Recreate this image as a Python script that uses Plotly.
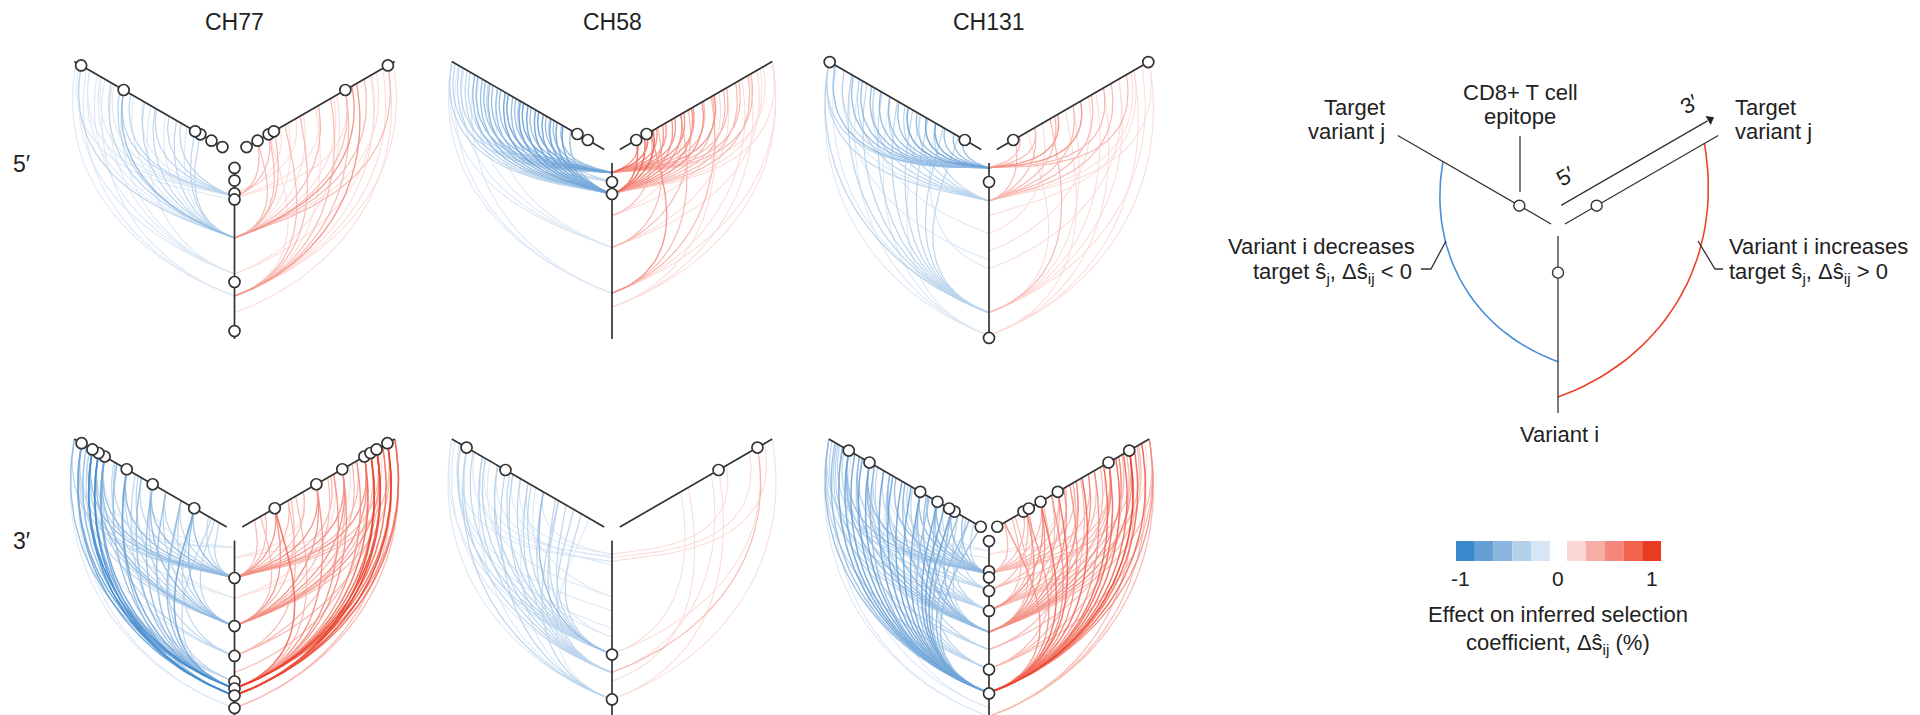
import math
import plotly.graph_objects as go

# ---------------- data ----------------
ROW_LABELS = ["5′", "3′"]
PATIENTS = ["CH77", "CH58", "CH131"]

# epitope positions along each axis (0 = hub end, 100 = outer end)
CH77_5_EPI = [2.8, 10, 17.3, 20.7, 67.6, 95.5]
CH58_5_EPI = [10.8, 17.6]
CH131_5_EPI = [10.8, 99.4]
CH77_3_EPI = [21.3, 48.6, 65.6, 80.1, 84.1, 88.1, 95.2]
CH58_3_EPI = [64.8, 90.3]
CH131_3_EPI = [0.3, 17.5, 21, 28.7, 40, 73.3, 86.9]

# links: (position of variant i on vertical axis, position of target j, effect %)
CH77_5_NEG = [
    (42.6, 17.5, -0.25), (42.6, 21, -0.3), (42.6, 26, -0.2), (42.6, 33, -0.35), (42.6, 40, -0.2),
    (42.6, 47, -0.3), (42.6, 54, -0.25), (42.6, 61, -0.2), (42.6, 67.6, -0.6), (42.6, 70, -0.35),
    (42.6, 76, -0.25), (42.6, 83, -0.2), (42.6, 90, -0.15), (42.6, 95.5, -0.3),
    (19, 30, -0.3), (19, 38, -0.25), (19, 46, -0.35), (19, 55, -0.2), (19, 63, -0.3), (19, 67.6, -0.4),
    (19, 74, -0.2), (19, 82, -0.15), (19, 90, -0.2), (21, 97, -0.12),
    (63, 67.6, -0.2), (63, 75, -0.15), (63, 85, -0.12), (63, 95.5, -0.1), (63, 50, -0.15),
    (75.6, 92, -0.08), (75.6, 99, -0.06), (75.6, 80, -0.08),
]
CH77_5_POS = [
    (42.6, 10, 0.3), (42.6, 17.5, 0.35), (42.6, 21, 0.25), (42.6, 30, 0.2), (42.6, 40, 0.15),
    (42.6, 50, 0.25), (42.6, 60, 0.2), (42.6, 67.6, 0.35), (42.6, 72, 0.6), (42.6, 80, 0.3),
    (42.6, 88, 0.2), (42.6, 95.5, 0.25),
    (19, 10, 0.4), (19, 17.5, 0.3), (19, 25, 0.2), (17, 35, 0.15), (20, 50, 0.1), (20, 67.6, 0.15),
    (75.6, 17.5, 0.2), (75.6, 28, 0.25), (75.6, 38, 0.35), (75.6, 48, 0.2), (75.6, 58, 0.3),
    (75.6, 67.6, 0.25), (75.6, 75, 0.45), (75.6, 84, 0.2), (75.6, 92, 0.15), (75.6, 99, 0.1),
    (63, 62, 0.12), (63, 85, 0.1), (85, 95.5, 0.06),
]
CH58_5_NEG = [
    (5.5, 28, -0.5), (5.5, 33, -0.6), (5.5, 38, -0.55), (5.5, 43, -0.7), (5.5, 48, -0.5),
    (5.5, 53, -0.65), (5.5, 58, -0.6), (5.5, 63, -0.7), (5.5, 68, -0.55), (5.5, 73, -0.6),
    (5.5, 78, -0.5), (5.5, 83, -0.45), (5.5, 88, -0.4), (5.5, 93, -0.35), (5.5, 98, -0.3),
    (17.6, 22, -0.6), (17.6, 27, -0.7), (17.6, 31, -0.75), (17.6, 35, -0.8), (17.6, 40, -0.7),
    (17.6, 45, -0.75), (17.6, 50, -0.65), (17.6, 55, -0.7), (17.6, 60, -0.6), (17.6, 65, -0.65),
    (17.6, 70, -0.55), (17.6, 75, -0.6), (17.6, 80, -0.5), (17.6, 85, -0.45), (17.6, 90, -0.4),
    (17.6, 95, -0.3), (17.6, 100, -0.25),
    (10.8, 36, -0.4), (10.8, 56, -0.35), (10.8, 76, -0.3),
    (48, 70, -0.15), (48, 82, -0.12), (48, 92, -0.1), (48, 100, -0.08),
    (74, 85, -0.1), (74, 96, -0.12), (74, 100, -0.08),
]
CH58_5_POS = [
    (5.5, 12, 0.6), (5.5, 18, 0.7), (5.5, 24, 0.55), (5.5, 30, 0.5), (5.5, 36, 0.6), (5.5, 42, 0.45),
    (5.5, 48, 0.5), (5.5, 55, 0.4), (5.5, 62, 0.45), (5.5, 70, 0.35), (5.5, 78, 0.3), (5.5, 86, 0.25),
    (5.5, 94, 0.2),
    (17.6, 10.8, 0.8), (17.6, 16, 0.7), (17.6, 22, 0.65), (17.6, 28, 0.6), (17.6, 34, 0.55),
    (17.6, 40, 0.5), (17.6, 47, 0.45), (17.6, 54, 0.5), (17.6, 61, 0.4), (17.6, 68, 0.35),
    (17.6, 76, 0.3), (17.6, 84, 0.25), (17.6, 92, 0.2), (17.6, 100, 0.15),
    (30, 20, 0.3), (30, 40, 0.2), (30, 65, 0.15),
    (48, 25, 0.4), (48, 45, 0.3), (48, 70, 0.2), (48, 90, 0.15),
    (74, 20, 0.45), (74, 40, 0.35), (74, 60, 0.25), (74, 80, 0.2), (74, 100, 0.12),
    (82, 60, 0.1), (82, 85, 0.1), (82, 100, 0.08),
]
CH131_5_NEG = [
    (2.8, 12, -0.5), (2.8, 18, -0.55), (2.8, 24, -0.6), (2.8, 30, -0.65), (2.8, 36, -0.7),
    (2.8, 42, -0.6), (2.8, 48, -0.65), (2.8, 54, -0.55), (2.8, 60, -0.6), (2.8, 66, -0.5),
    (2.8, 72, -0.55), (2.8, 78, -0.45), (2.8, 84, -0.5), (2.8, 90, -0.4), (2.8, 96, -0.45),
    (2.8, 100, -0.4),
    (21.6, 30, -0.35), (21.6, 40, -0.3), (21.6, 50, -0.35), (21.6, 60, -0.3), (21.6, 70, -0.25),
    (21.6, 80, -0.3), (21.6, 90, -0.2), (21.6, 100, -0.25),
    (85, 15, -0.3), (85, 25, -0.35), (85, 35, -0.4), (85, 45, -0.3), (85, 55, -0.35), (85, 65, -0.3),
    (85, 75, -0.25), (85, 85, -0.3), (85, 95, -0.2), (85, 100, -0.25),
    (98, 40, -0.15), (98, 60, -0.12), (98, 80, -0.15), (98, 100, -0.1),
    (40, 70, -0.1), (55, 85, -0.1), (60, 30, -0.12),
]
CH131_5_POS = [
    (2.8, 40, 0.55), (2.8, 55, 0.5), (2.8, 70, 0.35), (2.8, 85, 0.3), (2.8, 25, 0.3), (2.8, 15, 0.25),
    (21.6, 12, 0.3), (21.6, 25, 0.35), (21.6, 38, 0.3), (21.6, 50, 0.4), (21.6, 62, 0.3),
    (21.6, 75, 0.25), (21.6, 88, 0.2), (21.6, 100, 0.15),
    (85, 20, 0.2), (85, 35, 0.25), (85, 50, 0.2), (85, 65, 0.2), (85, 80, 0.15), (85, 95, 0.15),
    (98, 45, 0.1), (98, 70, 0.12), (98, 90, 0.1), (98, 100, 0.08),
    (40, 30, 0.1), (50, 60, 0.12), (30, 90, 0.1), (60, 80, 0.1),
]
CH77_3_NEG = [
    (21.3, 5, -0.3), (21.3, 12, -0.35), (21.3, 21.3, -0.5), (21.3, 30, -0.4), (21.3, 40, -0.35),
    (21.3, 48.6, -0.55), (21.3, 56, -0.3), (21.3, 65.6, -0.45), (21.3, 73, -0.35), (21.3, 80.1, -0.5),
    (21.3, 84.1, -0.4), (21.3, 88.1, -0.45), (21.3, 95.2, -0.3), (21.3, 100, -0.25),
    (48.6, 8, -0.3), (48.6, 21.3, -0.55), (48.6, 30, -0.35), (48.6, 40, -0.3), (48.6, 48.6, -0.5),
    (48.6, 58, -0.3), (48.6, 65.6, -0.4), (48.6, 74, -0.3), (48.6, 80.1, -0.45), (48.6, 84.1, -0.5),
    (48.6, 88.1, -0.4), (48.6, 95.2, -0.35),
    (65.6, 21.3, -0.3), (65.6, 48.6, -0.25), (65.6, 80.1, -0.3), (65.6, 95.2, -0.2),
    (84.1, 10, -0.4), (84.1, 21.3, -0.7), (84.1, 30, -0.5), (84.1, 40, -0.55), (84.1, 48.6, -0.6),
    (84.1, 56, -0.5), (84.1, 65.6, -0.65), (84.1, 72, -0.5), (84.1, 80.1, -0.75), (84.1, 84.1, -0.8),
    (84.1, 88.1, -0.85), (84.1, 92, -0.6), (84.1, 95.2, -0.7), (84.1, 100, -0.5),
    (88.1, 80.1, -0.8), (88.1, 84.1, -0.85), (88.1, 88.1, -0.9), (88.1, 95.2, -0.8), (88.1, 65.6, -0.5),
    (80.1, 30, -0.3), (80.1, 60, -0.3), (80.1, 90, -0.4),
    (4, 50, -0.15), (4, 80, -0.2), (4, 95, -0.15),
    (33, 65, -0.2), (33, 90, -0.2), (95.2, 95.2, -0.2), (95.2, 100, -0.15),
]
CH77_3_POS = [
    (21.3, 8, 0.3), (21.3, 15, 0.35), (21.3, 21.3, 0.6), (21.3, 30, 0.4), (21.3, 40, 0.35),
    (21.3, 48.6, 0.5), (21.3, 58, 0.35), (21.3, 65.6, 0.45), (21.3, 75, 0.35), (21.3, 80.1, 0.5),
    (21.3, 88.1, 0.4), (21.3, 95.2, 0.35),
    (48.6, 12, 0.3), (48.6, 21.3, 0.45), (48.6, 32, 0.35), (48.6, 48.6, 0.5), (48.6, 56, 0.3),
    (48.6, 65.6, 0.45), (48.6, 72, 0.35), (48.6, 80.1, 0.5), (48.6, 84.1, 0.4), (48.6, 88.1, 0.45),
    (48.6, 95.2, 0.3),
    (65.6, 30, 0.25), (65.6, 65.6, 0.3), (65.6, 88.1, 0.25),
    (84.1, 21.3, 0.75), (84.1, 35, 0.4), (84.1, 48.6, 0.55), (84.1, 60, 0.5), (84.1, 65.6, 0.6),
    (84.1, 75, 0.55), (84.1, 80.1, 0.7), (84.1, 84.1, 0.8), (84.1, 88.1, 0.85), (84.1, 92, 0.7),
    (84.1, 95.2, 0.8), (84.1, 100, 0.6),
    (88.1, 84.1, 0.85), (88.1, 88.1, 0.9), (88.1, 95.2, 0.9), (88.1, 100, 0.8),
    (95.2, 95.2, 0.3), (95.2, 100, 0.25),
    (10, 40, 0.2), (10, 70, 0.15), (33, 60, 0.2), (33, 90, 0.2), (75, 80, 0.3),
]
CH58_3_NEG = [
    (8, 40, -0.2), (8, 55, -0.15), (10, 70, -0.2), (12, 85, -0.15), (12, 95, -0.12), (14, 60, -0.15),
    (9, 78, -0.1),
    (32, 50, -0.12), (32, 80, -0.1), (40, 95, -0.1),
    (64.6, 15, -0.3), (64.6, 25, -0.4), (64.6, 32, -0.35), (64.6, 40, -0.45), (64.6, 48, -0.4),
    (64.6, 55, -0.35), (64.6, 62, -0.4), (64.6, 70, -0.3), (64.6, 78, -0.35), (64.6, 86, -0.3),
    (64.6, 94, -0.25), (64.6, 100, -0.2),
    (75, 20, -0.35), (75, 30, -0.4), (75, 40, -0.35), (75, 50, -0.3), (75, 60, -0.35), (75, 70, -0.3),
    (75, 80, -0.3), (75, 90, -0.25), (75, 98, -0.2),
    (90.3, 10, -0.2), (90.3, 30, -0.25), (90.3, 50, -0.2), (90.3, 64.8, -0.25), (90.3, 80, -0.2),
    (90.3, 90.3, -0.3), (90.3, 100, -0.15),
    (55, 45, -0.15), (55, 75, -0.12), (50, 95, -0.1),
]
CH58_3_POS = [
    (8, 70, 0.15), (10, 85, 0.12), (12, 95, 0.1),
    (64.6, 40, 0.12), (64.6, 90.3, 0.1),
    (75, 90.3, 0.4), (75, 60, 0.15),
    (90.3, 64.8, 0.12), (90.3, 100, 0.1), (80, 45, 0.1),
]
CH131_3_NEG = [
    (19, 5, -0.4), (19, 12, -0.45), (19, 19.3, -0.6), (19, 25, -0.4), (19, 28.7, -0.5), (19, 35, -0.45),
    (19, 40, -0.55), (19, 48, -0.4), (19, 56, -0.45), (19, 64, -0.35), (19, 73.3, -0.5), (19, 80, -0.4),
    (19, 86.9, -0.45), (19, 93, -0.35), (19, 100, -0.3),
    (28.3, 10, -0.3), (28.3, 30, -0.35), (28.3, 50, -0.3), (28.3, 70, -0.3), (28.3, 90, -0.25),
    (39.7, 15, -0.35), (39.7, 28.7, -0.4), (39.7, 45, -0.35), (39.7, 60, -0.4), (39.7, 73.3, -0.35),
    (39.7, 86.9, -0.3), (39.7, 98, -0.3),
    (52, 8, -0.4), (52, 19.3, -0.5), (52, 28.7, -0.55), (52, 36, -0.45), (52, 40, -0.5), (52, 50, -0.45),
    (52, 60, -0.5), (52, 68, -0.4), (52, 73.3, -0.5), (52, 80, -0.45), (52, 86.9, -0.5), (52, 94, -0.4),
    (52, 100, -0.35),
    (73, 20, -0.3), (73, 40, -0.35), (73, 60, -0.3), (73, 80, -0.35), (73, 100, -0.3),
    (86.6, 0.3, -0.5), (86.6, 8, -0.55), (86.6, 15, -0.6), (86.6, 19.3, -0.7), (86.6, 24, -0.65),
    (86.6, 28.7, -0.7), (86.6, 34, -0.6), (86.6, 40, -0.75), (86.6, 46, -0.65), (86.6, 52, -0.7),
    (86.6, 58, -0.65), (86.6, 64, -0.7), (86.6, 70, -0.6), (86.6, 73.3, -0.75), (86.6, 78, -0.65),
    (86.6, 83, -0.7), (86.6, 86.9, -0.8), (86.6, 91, -0.65), (86.6, 96, -0.6), (86.6, 100, -0.5),
    (95, 60, -0.2), (95, 85, -0.2), (100, 100, -0.1), (100, 95, -0.1),
    (6, 30, -0.2), (6, 60, -0.15), (10, 80, -0.15),
    (62, 40, -0.3), (62, 70, -0.25), (62, 95, -0.25),
]
CH131_3_POS = [
    (19, 5, 0.3), (19, 17.5, 0.35), (19, 28.7, 0.4), (19, 40, 0.35), (19, 50, 0.3), (19, 60, 0.35),
    (19, 73.3, 0.3), (19, 86.9, 0.25), (19, 97, 0.2),
    (28.3, 19.3, 0.3), (28.3, 45, 0.3), (28.3, 73.3, 0.25),
    (39.7, 10, 0.35), (39.7, 21, 0.4), (39.7, 28.7, 0.45), (39.7, 40, 0.4), (39.7, 52, 0.35),
    (39.7, 64, 0.4), (39.7, 73.3, 0.35), (39.7, 82, 0.3), (39.7, 92, 0.3),
    (52, 12, 0.35), (52, 19.3, 0.45), (52, 28.7, 0.5), (52, 36, 0.4), (52, 44, 0.45), (52, 52, 0.5),
    (52, 60, 0.45), (52, 68, 0.4), (52, 73.3, 0.5), (52, 80, 0.45), (52, 86.9, 0.5), (52, 93, 0.4),
    (52, 100, 0.35),
    (73, 30, 0.3), (73, 55, 0.35), (73, 80, 0.35), (73, 100, 0.3),
    (86.6, 5, 0.5), (86.6, 19.3, 0.6), (86.6, 28.7, 0.65), (86.6, 36, 0.55), (86.6, 40, 0.7),
    (86.6, 48, 0.6), (86.6, 56, 0.65), (86.6, 64, 0.6), (86.6, 70, 0.65), (86.6, 73.3, 0.7),
    (86.6, 78, 0.65), (86.6, 83, 0.75), (86.6, 86.9, 0.85), (86.6, 90, 0.7), (86.6, 95, 0.65),
    (86.6, 100, 0.55),
    (100, 95, 0.4), (100, 100, 0.35), (100, 86.9, 0.3),
    (8, 40, 0.2), (8, 70, 0.2), (62, 50, 0.3), (62, 85, 0.25),
]

# schematic legend
LEGEND_EPI = [20.7]
LEGEND_LINKS = [(71, 70.5, -1.0), (91, 91, 1.0)]

# colour scale (5 bins each side)
NEG_COLORS = ["#d7e5f4", "#b2cfeb", "#8ab6e0", "#669fd6", "#3a87cc"]   # |effect| small -> large
POS_COLORS = ["#fbd7d3", "#f7aea6", "#f4877b", "#f1624f", "#e83b22"]
CBAR_TICKS = ["-1", "0", "1"]

# ---------------- layout geometry ----------------
FONT = "Liberation Sans, Arial, Helvetica, sans-serif"
TXT = "#222222"
AX = "#333333"
R0, R1 = 9, 185
COL_X = [226.5, 604, 981]
ROW_Y = [146, 523.5]
LEG_C = (1550, 220)
TEXT_DY = -5

PANELS = [
    (0, 0, CH77_5_EPI, CH77_5_NEG, CH77_5_POS),
    (1, 0, CH58_5_EPI, CH58_5_NEG, CH58_5_POS),
    (2, 0, CH131_5_EPI, CH131_5_NEG, CH131_5_POS),
    (0, 1, CH77_3_EPI, CH77_3_NEG, CH77_3_POS),
    (1, 1, CH58_3_EPI, CH58_3_NEG, CH58_3_POS),
    (2, 1, CH131_3_EPI, CH131_3_NEG, CH131_3_POS),
]


def rad(p, r0=R0, r1=R1):
    return r0 + (r1 - r0) * p / 100.0


def polar(cx, cy, ang, r):
    a = math.radians(ang)
    return cx + r * math.cos(a), cy - r * math.sin(a)


def link_xy(cx, cy, pi, pj, eff, r0=R0, r1=R1, n=36):
    ri, rj = rad(pi, r0, r1), rad(pj, r0, r1)
    if eff < 0:
        sa, sr, ta, tr = 150, rj, 270, ri
    else:
        sa, sr, ta, tr = 270, ri, 390, rj
    a1 = sa + (ta - sa) / 3.0
    a2 = ta - (ta - sa) / 3.0
    P = [polar(cx, cy, sa, sr), polar(cx, cy, a1, sr), polar(cx, cy, a2, tr), polar(cx, cy, ta, tr)]
    xs, ys = [], []
    for k in range(n + 1):
        t = k / n
        b = [(1 - t) ** 3, 3 * (1 - t) ** 2 * t, 3 * (1 - t) * t ** 2, t ** 3]
        xs.append(sum(b[m] * P[m][0] for m in range(4)))
        ys.append(sum(b[m] * P[m][1] for m in range(4)))
    return xs, ys


def level(eff):
    return max(1, min(5, int(math.ceil(abs(eff) / 0.2 - 1e-9))))


fig = go.Figure()

# links (light first, dark on top)
for lv in range(1, 6):
    for side, colors in ((-1, NEG_COLORS), (1, POS_COLORS)):
        X, Y = [], []
        for col, row, epi, neg, pos in PANELS:
            links = neg if side < 0 else pos
            for (pi, pj, e) in links:
                if level(e) != lv:
                    continue
                xs, ys = link_xy(COL_X[col], ROW_Y[row], pi, pj, e)
                X += xs + [None]
                Y += ys + [None]
        if X:
            fig.add_trace(go.Scatter(
                x=X, y=Y, mode="lines", hoverinfo="skip",
                line=dict(color=colors[lv - 1], width=0.9 + 0.15 * lv),
                opacity=0.85))

# panel axes and epitope circles
for col, row, epi, neg, pos in PANELS:
    cx, cy = COL_X[col], ROW_Y[row]
    X, Y = [], []
    for ang in (150, 30, 270):
        x0, y0 = polar(cx, cy, ang, R0)
        x1, y1 = polar(cx, cy, ang, R1)
        X += [x0, x1, None]
        Y += [y0, y1, None]
    fig.add_trace(go.Scatter(x=X, y=Y, mode="lines", hoverinfo="skip",
                             line=dict(color=AX, width=1.7)))
    MX, MY = [], []
    for ang in (150, 30, 270):
        for p in epi:
            x, y = polar(cx, cy, ang, rad(p))
            MX.append(x)
            MY.append(y)
    fig.add_trace(go.Scatter(x=MX, y=MY, mode="markers", hoverinfo="skip",
                             marker=dict(symbol="circle", size=11, color="white",
                                         line=dict(color=AX, width=1.7))))

# schematic legend hive
lcx, lcy = LEG_C
LR0 = 8
for (pi, pj, e) in LEGEND_LINKS:
    xs, ys = link_xy(lcx, lcy, pi, pj, e, r0=LR0)
    fig.add_trace(go.Scatter(x=xs, y=ys, mode="lines", hoverinfo="skip",
                             line=dict(color="#4a8fd6" if e < 0 else "#ea4229", width=1.6)))
X, Y = [], []
for ang in (150, 30, 270):
    x0, y0 = polar(lcx, lcy, ang, LR0)
    x1, y1 = polar(lcx, lcy, ang, R1)
    X += [x0, x1, None]
    Y += [y0, y1, None]
# arrow 5'->3' alongside the right axis
off = 18
ux, uy = -0.5, -0.866
tx, ty = polar(lcx, lcy, 30, 14)
hx, hy = polar(lcx, lcy, 30, 183)
X += [tx + off * ux, hx + off * ux, None]
Y += [ty + off * uy, hy + off * uy, None]
# callout lines
X += [1512, 1512, None, 1413, 1423, 1438, None, 1690, 1707, 1715, None]
Y += [128, 184, None, 261, 261, 233, None, 233, 261, 261, None]
fig.add_trace(go.Scatter(x=X, y=Y, mode="lines", hoverinfo="skip",
                         line=dict(color=AX, width=1.3)))
ax_, ay_ = polar(lcx, lcy, 30, 186)
fig.add_trace(go.Scatter(x=[ax_ + off * ux], y=[ay_ + off * uy], mode="markers", hoverinfo="skip",
                         marker=dict(symbol="triangle-up", size=9, angle=60, color=TXT,
                                     line=dict(width=0))))
MX, MY = [], []
for ang in (150, 30, 270):
    for p in LEGEND_EPI:
        x, y = polar(lcx, lcy, ang, rad(p, LR0, R1))
        MX.append(x)
        MY.append(y)
fig.add_trace(go.Scatter(x=MX, y=MY, mode="markers", hoverinfo="skip",
                         marker=dict(symbol="circle", size=11, color="white",
                                     line=dict(color=AX, width=1.4))))

annotations = []


def txt(x, y, s, size=22, xanchor="center", angle=0):
    annotations.append(dict(x=x, y=y + TEXT_DY, xref="x", yref="y", text=s, showarrow=False,
                            xanchor=xanchor, yanchor="middle", textangle=angle,
                            font=dict(family=FONT, size=size, color=TXT)))


for k, name in enumerate(PATIENTS):
    txt(COL_X[k], 19, name, size=23)
txt(13, 161, ROW_LABELS[0], size=23)
txt(13, 538, ROW_LABELS[1], size=23)

txt(1512, 89, "CD8+ T cell")
txt(1512, 113, "epitope")
txt(1379, 104, "Target", xanchor="right")
txt(1379, 128, "variant j", xanchor="right")
txt(1725, 104, "Target", xanchor="left")
txt(1725, 128, "variant j", xanchor="left")
txt(1409, 243, "Variant i decreases", xanchor="right")
txt(1406, 270, "target ŝ<sub>j</sub>, Δŝ<sub>ij</sub> &lt; 0", xanchor="right")
txt(1719, 243, "Variant i increases", xanchor="left")
txt(1719, 270, "target ŝ<sub>j</sub>, Δŝ<sub>ij</sub> &gt; 0", xanchor="left")
txt(1551, 431, "Variant i")
txt(1557, 173, "5′", angle=-30)
txt(1681, 101, "3′", angle=-30)

# colour bar
shapes = []
bw = 18.8
for k in range(5):
    x0 = 1448 + k * bw
    shapes.append(dict(type="rect", xref="x", yref="y", x0=x0, x1=x0 + bw, y0=533, y1=553,
                       fillcolor=NEG_COLORS[4 - k], line=dict(width=0)))
    x0 = 1559 + k * bw
    shapes.append(dict(type="rect", xref="x", yref="y", x0=x0, x1=x0 + bw, y0=533, y1=553,
                       fillcolor=POS_COLORS[k], line=dict(width=0)))
for xv, s in zip([1452, 1550, 1644], CBAR_TICKS):
    txt(xv, 575, s, size=21)
txt(1550, 611, "Effect on inferred selection")
txt(1550, 641, "coefficient, Δŝ<sub>ij</sub> (%)")

fig.update_layout(
    width=1920, height=715, margin=dict(l=0, r=0, t=0, b=0),
    paper_bgcolor="white", plot_bgcolor="white", showlegend=False,
    xaxis=dict(range=[0, 1920], visible=False, fixedrange=True),
    yaxis=dict(range=[715, 0], visible=False, fixedrange=True),
    annotations=annotations, shapes=shapes,
)

fig.write_html("out.html", config={"displayModeBar": False})
